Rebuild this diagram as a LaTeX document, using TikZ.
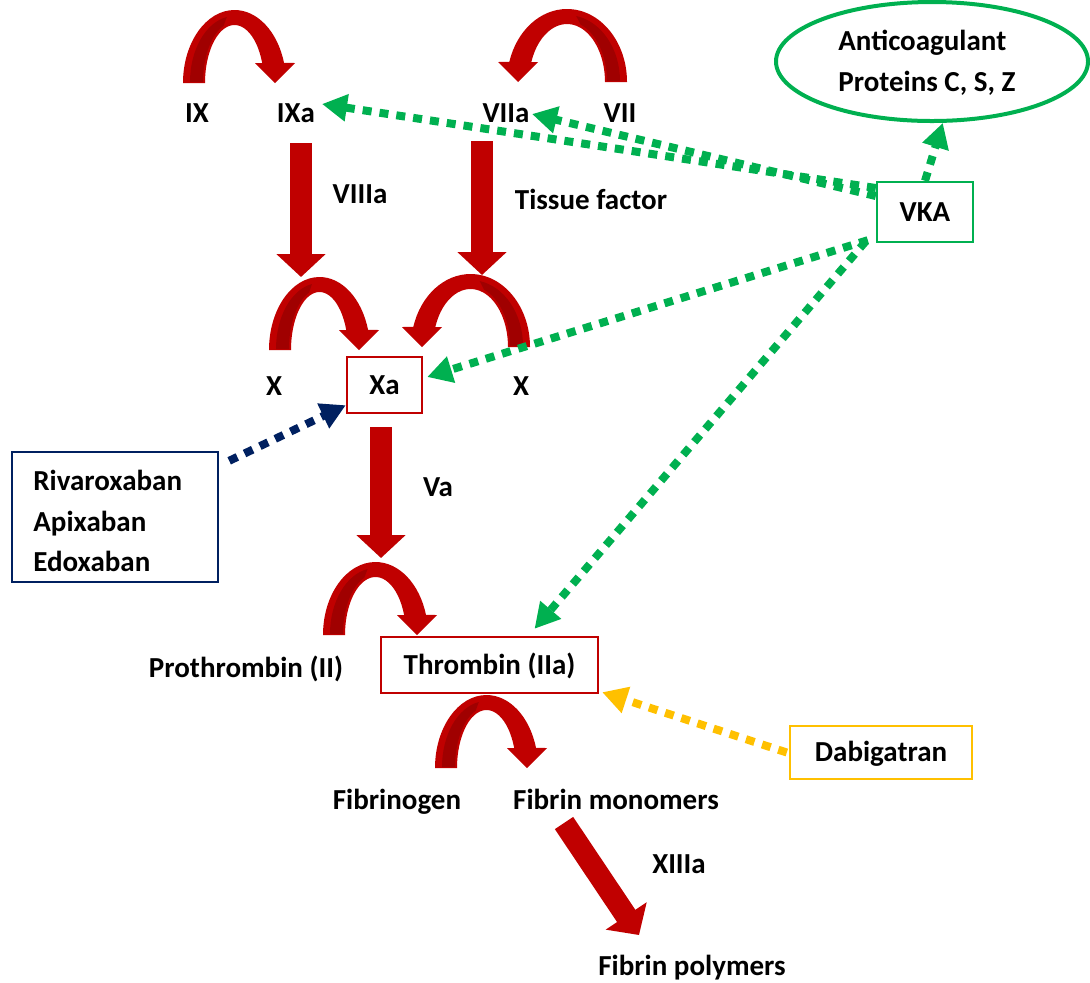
\documentclass[tikz,border=0pt]{standalone}
\usepackage{fontspec}
\setmainfont{Carlito}
\usetikzlibrary{arrows.meta,shapes.geometric,calc}
\definecolor{redA}{HTML}{C00000}
\definecolor{redD}{HTML}{A00000}
\definecolor{grn}{HTML}{00B050}
\definecolor{navy}{HTML}{002060}
\definecolor{yel}{HTML}{FFC000}
\newcommand\CurvArr[4]{%
\begin{scope}[shift={(#1,#2)},xscale=#4,yscale=-1]
\pgfmathsetmacro\CAc{#3/2}%
\pgfmathsetmacro\CAro{#3/2+11}%
\pgfmathsetmacro\CAri{#3/2-11}%
\pgfmathsetmacro\CAix{#3/2+(#3/2-11)*cos(20)}%
\pgfmathsetmacro\CAiy{58*sin(20)}%
\pgfmathsetmacro\CAdo{#3/2+4}%
\pgfmathsetmacro\CAdi{#3/2-9}%
\pgfmathsetmacro\CAdx{#3/2+(#3/2-9)*cos(110)}%
\pgfmathsetmacro\CAdy{1+60*sin(110)}%
\fill[redA] (-11,0) arc[start angle=180,end angle=16,x radius=\CAro,y radius=73]
  -- (#3+20,20) -- (#3,0) -- (#3-20,20) -- (\CAix,\CAiy)
  arc[start angle=20,end angle=180,x radius=\CAri,y radius=58] -- cycle;
\fill[redD] (-4,1) arc[start angle=180,end angle=100,x radius=\CAdo,y radius=66]
  -- (\CAdx,\CAdy) arc[start angle=110,end angle=180,x radius=\CAdi,y radius=60] -- cycle;
\end{scope}}
\begin{document}
\begin{tikzpicture}[x=0.5pt,y=-0.5pt,
  txt/.style={font=\bfseries\fontsize{14.5pt}{20pt}\selectfont},
  lbl/.style={txt,anchor=base,inner sep=0pt},
  boxsty/.style={txt,draw,line width=1.2pt,inner sep=0pt,text height=9.3pt,text depth=0pt},
  blockarrow/.style={draw=redA,line width=11pt,-{Triangle[length=11.5pt,width=24pt]}},
  dotcon/.style={line width=4pt,dash pattern=on 4.5pt off 4pt,-{Triangle[length=12.5pt,width=13pt]}}]
\useasboundingbox (0,0) rectangle (1090,982);

% labels
\node[lbl] (ix) at (197,122) {IX};
\node[lbl] (ixa) at (296,122) {IXa};
\node[lbl] (viia) at (506,122) {VIIa};
\node[lbl] (vii) at (620,122) {VII};
\node[lbl] (viiia) at (360,203) {VIIIa};
\node[lbl] (tf) at (591,209) {Tissue factor};
\node[lbl] (xl) at (274,395) {X};
\node[lbl] (xr) at (521,395) {X};
\node[lbl] (va) at (438,496) {Va};
\node[lbl] (pro) at (246,677) {Prothrombin (II)};
\node[lbl] (fbg) at (397,809) {Fibrinogen};
\node[lbl] (fbm) at (616,809) {Fibrin monomers};
\node[lbl] (xiiia) at (679,873) {XIIIa};
\node[lbl] (fbp) at (692,975) {Fibrin polymers};

% boxes
\node[boxsty,draw=redA,minimum width=37.5pt,minimum height=28pt] (xa) at (384.5,385) {Xa};
\node[boxsty,draw=redA,minimum width=108.5pt,minimum height=28pt] (thr) at (489.5,665) {Thrombin (IIa)};
\node[boxsty,draw=yel,minimum width=91pt,minimum height=26.5pt] (dab) at (881,752.5) {Dabigatran};
\node[boxsty,draw=grn,minimum width=48pt,minimum height=30pt] (vka) at (925,212) {VKA};
\node[draw=navy,line width=1.2pt,minimum width=103pt,minimum height=65pt,inner sep=0pt] (riv) at (115,517) {};
\node[lbl,anchor=base west] (riv1) at (33,490) {Rivaroxaban};
\node[lbl,anchor=base west] (riv2) at (33,531) {Apixaban};
\node[lbl,anchor=base west] (riv3) at (33,571) {Edoxaban};
\node[ellipse,draw=grn,line width=2pt,minimum width=156pt,minimum height=59.5pt,inner sep=0pt] (acp) at (932,61.5) {};
\node[lbl,anchor=base west] (acp1) at (838,50) {Anticoagulant};
\node[lbl,anchor=base west] (acp2) at (838,91) {Proteins C, S, Z};

% red straight arrows
\coordinate (a1s) at (301,143); \coordinate (a1e) at (301,277);
\coordinate (a2s) at (482,141); \coordinate (a2e) at (482,275);
\coordinate (a3s) at (381,427); \coordinate (a3e) at (381,558);
\coordinate (a4s) at (564,823); \coordinate (a4e) at (639,935);
\draw[blockarrow] (a1s) -- (a1e);
\draw[blockarrow] (a2s) -- (a2e);
\draw[blockarrow] (a3s) -- (a3e);
\draw[blockarrow] (a4s) -- (a4e);

% curved arrows
\CurvArr{194}{83}{81}{1}
\CurvArr{616}{82}{98}{-1}
\CurvArr{280}{350}{79}{1}
\CurvArr{519}{347}{97}{-1}
\CurvArr{334}{635}{83}{1}
\CurvArr{446}{768}{81}{1}

% dotted connectors
\coordinate (tIXa) at (322,104);
\coordinate (tVIIa) at (532,114);
\draw[dotcon,grn] ($(vka.west)+(0,-24)$) -- (tIXa);
\draw[dotcon,grn] ($(vka.west)+(0,-16)$) -- (tVIIa);
\draw[dotcon,grn] ($(vka.south west)+(-8,-3)$) -- ($(xa.east)+(4,-8)$);
\draw[dotcon,grn] ($(vka.south west)+(-10,-2)$) -- ($(thr.north)+(45,-7)$);
\draw[dotcon,grn] (vka.north) -- (acp.-80);
\draw[dotcon,navy] ($(riv.north east)+(10,10)$) -- ($(xa.south west)+(0,-9)$);
\draw[dotcon,yel] ($(dab.west)+(-2,0)$) -- ($(thr.south east)+(3,-2)$);
\end{tikzpicture}
\end{document}
